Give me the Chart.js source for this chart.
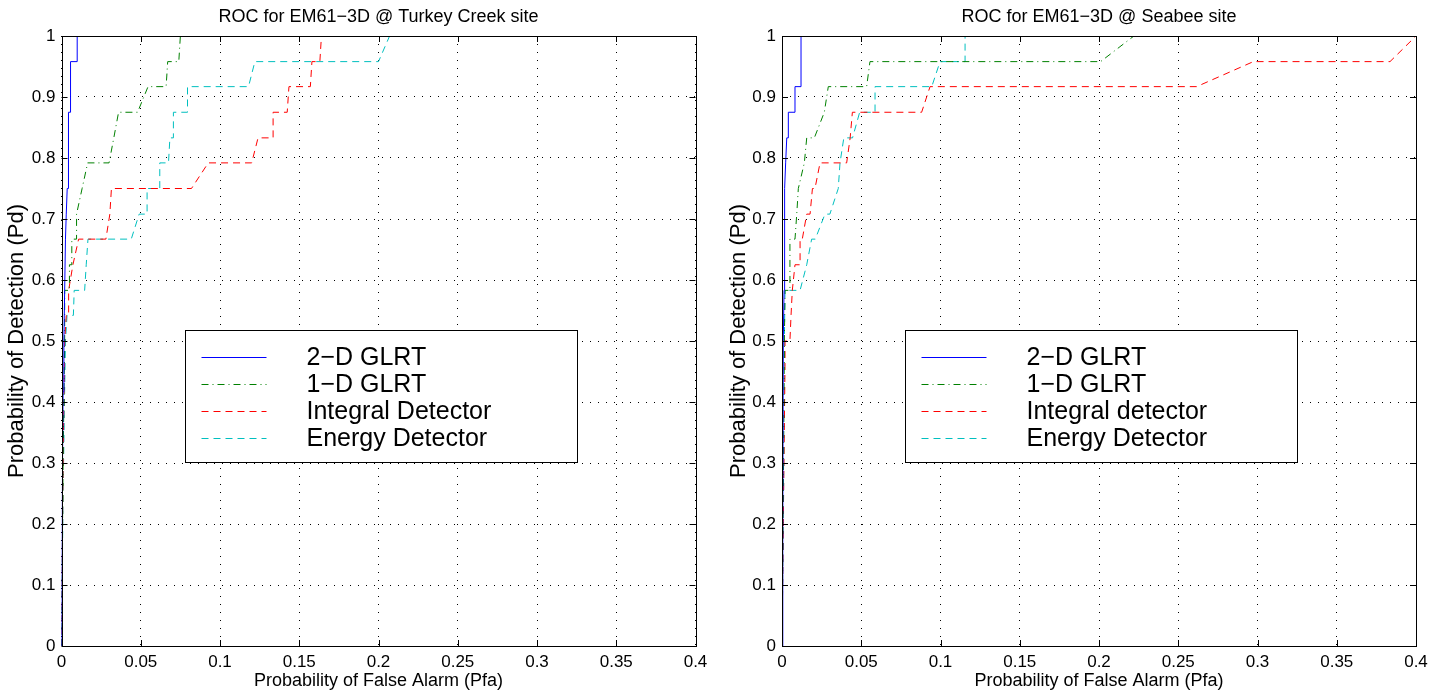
<!DOCTYPE html>
<html>
<head>
<meta charset="utf-8">
<title>ROC for EM61-3D</title>
<script src="https://cdn.jsdelivr.net/npm/chart.js@4/dist/chart.umd.min.js"></script>
<style>
    html, body { margin: 0; padding: 0; background: #fff; }
    #wrap { position: relative; width: 1444px; height: 696px; }
    canvas { position: absolute; top: 0; }
</style>
</head>
<body>
<div id="wrap">
    <canvas id="turkeyChart" width="722" height="696" style="left:0"></canvas>
    <canvas id="seabeeChart" width="722" height="696" style="left:722px"></canvas>
</div>
<script>
// Turkey Creek site
const turkeyPfa2D = [0, 0.0005, 0.001, 0.0015, 0.002, 0.0025, 0.003, 0.0036, 0.0044, 0.0044, 0.0057, 0.0057, 0.0099, 0.0099, 0.4];
const turkeyPd2D  = [0, 0.25, 0.417, 0.5, 0.583, 0.667, 0.708, 0.75, 0.75, 0.875, 0.875, 0.958, 0.958, 1, 1];
const turkeyPfa1D = [0, 0.001, 0.002, 0.002, 0.005, 0.005, 0.0065, 0.0065, 0.0095, 0.0095, 0.013, 0.0165, 0.030, 0.033, 0.036, 0.048, 0.0546, 0.066, 0.067, 0.074, 0.075, 0.4];
const turkeyPd1D  = [0, 0.3, 0.5, 0.583, 0.583, 0.625, 0.625, 0.667, 0.667, 0.708, 0.75, 0.792, 0.792, 0.833, 0.875, 0.875, 0.917, 0.917, 0.958, 0.958, 1, 1];
const turkeyPfaInt = [0, 0.001, 0.002, 0.003, 0.0045, 0.0045, 0.0072, 0.0108, 0.028, 0.0305, 0.0315, 0.082, 0.0926, 0.12, 0.124, 0.1335, 0.1335, 0.1424, 0.1435, 0.157, 0.158, 0.163, 0.164, 0.4];
const turkeyPdInt  = [0, 0.3, 0.5, 0.542, 0.542, 0.583, 0.625, 0.667, 0.667, 0.708, 0.75, 0.75, 0.792, 0.792, 0.833, 0.833, 0.875, 0.875, 0.917, 0.917, 0.958, 0.958, 1, 1];
const turkeyPfaEn = [0, 0.001, 0.002, 0.0025, 0.0035, 0.0075, 0.008, 0.0146, 0.0156, 0.0167, 0.044, 0.049, 0.054, 0.054, 0.062, 0.062, 0.0675, 0.0684, 0.0706, 0.0706, 0.0795, 0.0795, 0.118, 0.122, 0.2, 0.207, 0.4];
const turkeyPdEn  = [0, 0.25, 0.42, 0.5, 0.542, 0.542, 0.583, 0.583, 0.625, 0.667, 0.667, 0.708, 0.708, 0.75, 0.75, 0.792, 0.792, 0.833, 0.833, 0.875, 0.875, 0.917, 0.917, 0.958, 0.958, 1, 1];

// Seabee site
const seabeePfa2D = [0, 0.0005, 0.0008, 0.0013, 0.0015, 0.0018, 0.0023, 0.003, 0.004, 0.004, 0.0082, 0.0082, 0.012, 0.012, 0.4];
const seabeePd2D  = [0, 0.2, 0.5, 0.583, 0.667, 0.75, 0.792, 0.833, 0.833, 0.875, 0.875, 0.917, 0.917, 1, 1];
const seabeePfa1D = [0, 0.001, 0.0015, 0.0019, 0.005, 0.005, 0.0082, 0.0093, 0.0103, 0.0141, 0.0156, 0.0204, 0.0267, 0.0292, 0.0534, 0.0555, 0.201, 0.222, 0.4];
const seabeePd1D  = [0, 0.3, 0.5, 0.583, 0.583, 0.667, 0.667, 0.708, 0.75, 0.792, 0.833, 0.833, 0.875, 0.917, 0.917, 0.958, 0.958, 1, 1];
const seabeePfaInt = [0, 0.001, 0.0019, 0.0019, 0.005, 0.0057, 0.0065, 0.0082, 0.0114, 0.0114, 0.0128, 0.0156, 0.0177, 0.0192, 0.0208, 0.024, 0.0408, 0.043, 0.0444, 0.0881, 0.0934, 0.2616, 0.2974, 0.3836, 0.4];
const seabeePdInt  = [0, 0.25, 0.458, 0.5, 0.5, 0.542, 0.583, 0.625, 0.625, 0.667, 0.667, 0.708, 0.708, 0.75, 0.75, 0.792, 0.792, 0.833, 0.875, 0.875, 0.917, 0.917, 0.958, 0.958, 1];
const seabeePfaEn = [0, 0.001, 0.0015, 0.0019, 0.0114, 0.0156, 0.0187, 0.021, 0.0271, 0.0302, 0.0355, 0.0366, 0.039, 0.0445, 0.049, 0.0587, 0.0587, 0.0945, 0.0997, 0.1155, 0.1155, 0.4];
const seabeePdEn  = [0, 0.25, 0.5, 0.583, 0.583, 0.625, 0.667, 0.667, 0.708, 0.708, 0.75, 0.792, 0.833, 0.833, 0.875, 0.875, 0.917, 0.917, 0.958, 0.958, 1, 1];

const turkeyLabels = ['2\u2212D GLRT', '1\u2212D GLRT', 'Integral Detector', 'Energy Detector'];
const seabeeLabels = ['2\u2212D GLRT', '1\u2212D GLRT', 'Integral detector', 'Energy Detector'];

(function () {
    Chart.defaults.font.family = '"Liberation Sans", Arial, Helvetica, sans-serif';
    Chart.defaults.color = '#000';

    const styles = [
        { color: '#0000ff', dash: [] },
        { color: '#008000', dash: [7, 4, 1, 4] },
        { color: '#ff0000', dash: [7, 5] },
        { color: '#00bfbf', dash: [7, 5] }
    ];

    function toPoints(xs, ys) {
        return xs.map((x, i) => ({ x: x, y: ys[i] }));
    }

    // box, inner ticks and legend in the MATLAB style
    const framePlugin = {
        id: 'frame',
        afterDraw(chart) {
            const ctx = chart.ctx;
            const a = chart.chartArea;
            const xs = chart.scales.x, ys = chart.scales.y;
            ctx.save();
            ctx.strokeStyle = '#000';
            ctx.lineWidth = 1;
            ctx.setLineDash([]);
            ctx.beginPath();
            xs.ticks.forEach(t => {
                const px = Math.round(xs.getPixelForValue(t.value)) + 0.5;
                ctx.moveTo(px, a.bottom); ctx.lineTo(px, a.bottom - 6);
                ctx.moveTo(px, a.top); ctx.lineTo(px, a.top + 6);
            });
            ys.ticks.forEach(t => {
                const py = Math.round(ys.getPixelForValue(t.value)) + 0.5;
                ctx.moveTo(a.left, py); ctx.lineTo(a.left + 6, py);
                ctx.moveTo(a.right, py); ctx.lineTo(a.right - 6, py);
            });
            ctx.stroke();
            ctx.strokeRect(Math.round(a.left) + 0.5, Math.round(a.top) + 0.5,
                Math.round(a.right - a.left), Math.round(a.bottom - a.top));

            // legend
            const bx = Math.round(a.left + 123) + 0.5, by = Math.round(a.top + 294) + 0.5;
            const bw = 392, bh = 132;
            ctx.fillStyle = '#fff';
            ctx.fillRect(bx, by, bw, bh);
            ctx.strokeRect(bx, by, bw, bh);
            ctx.font = '25px "Liberation Sans", Arial, sans-serif';
            ctx.textBaseline = 'middle';
            chart.data.datasets.forEach((ds, i) => {
                const y = Math.round(by + 26 + i * 27) + 0.5;
                ctx.strokeStyle = ds.borderColor;
                ctx.setLineDash(ds.borderDash);
                ctx.beginPath();
                ctx.moveTo(bx + 16, y);
                ctx.lineTo(bx + 81, y);
                ctx.stroke();
                ctx.fillStyle = '#000';
                ctx.fillText(ds.label, bx + 121, y + 1);
            });
            ctx.restore();
        }
    };

    function makeChart(id, title, labels, series, yWidth, padRight) {
        new Chart(document.getElementById(id).getContext('2d'), {
            type: 'line',
            data: {
                datasets: series.map((s, i) => ({
                    label: labels[i],
                    data: toPoints(s[0], s[1]),
                    borderColor: styles[i].color,
                    borderDash: styles[i].dash,
                    borderWidth: 1,
                    pointRadius: 0,
                    tension: 0,
                    fill: false
                }))
            },
            options: {
                responsive: false,
                animation: false,
                devicePixelRatio: 1,
                layout: { padding: { left: 0, right: padRight, top: 0, bottom: 0 } },
                plugins: {
                    legend: { display: false },
                    tooltip: { enabled: false },
                    title: {
                        display: true,
                        text: title,
                        fullSize: false,
                        font: { size: 18, weight: 'normal' },
                        padding: { top: 6, bottom: 8.4 }
                    }
                },
                scales: {
                    x: {
                        type: 'linear',
                        min: 0,
                        max: 0.4,
                        ticks: {
                            stepSize: 0.05,
                            padding: 6,
                            font: { size: 17 },
                            maxRotation: 0,
                            callback: v => String(+v.toFixed(2))
                        },
                        grid: { color: '#000', drawTicks: false, lineWidth: 1 },
                        border: { display: false, dash: [1, 7] },
                        title: {
                            display: true,
                            text: 'Probability of False Alarm (Pfa)',
                            font: { size: 18 },
                            padding: { top: 2, bottom: 4 }
                        },
                        afterFit: s => { s.height = 50; }
                    },
                    y: {
                        min: 0,
                        max: 1,
                        ticks: {
                            stepSize: 0.1,
                            padding: 6,
                            font: { size: 17 },
                            callback: v => String(+v.toFixed(1))
                        },
                        grid: { color: '#000', drawTicks: false, lineWidth: 1 },
                        border: { display: false, dash: [1, 7] },
                        title: {
                            display: true,
                            text: 'Probability of Detection (Pd)',
                            font: { size: 22 },
                            padding: { top: 4, bottom: 4 }
                        },
                        afterFit: s => { s.width = yWidth; }
                    }
                }
            },
            plugins: [framePlugin]
        });
    }

    makeChart('turkeyChart', 'ROC for EM61\u22123D @ Turkey Creek site', turkeyLabels, [
        [turkeyPfa2D, turkeyPd2D],
        [turkeyPfa1D, turkeyPd1D],
        [turkeyPfaInt, turkeyPdInt],
        [turkeyPfaEn, turkeyPdEn]
    ], 61.5, 26.5);

    makeChart('seabeeChart', 'ROC for EM61\u22123D @ Seabee site', seabeeLabels, [
        [seabeePfa2D, seabeePd2D],
        [seabeePfa1D, seabeePd1D],
        [seabeePfaInt, seabeePdInt],
        [seabeePfaEn, seabeePdEn]
    ], 60, 28);
})();
</script>
</body>
</html>
